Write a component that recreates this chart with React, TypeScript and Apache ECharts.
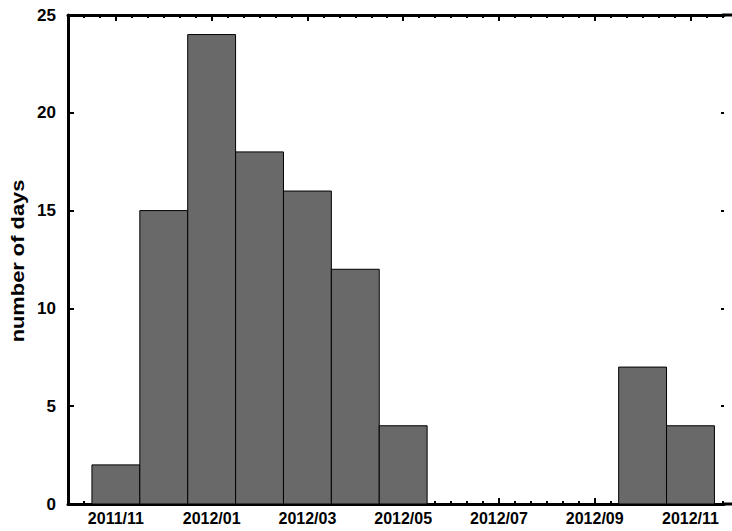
import React, { useEffect, useRef } from "react";
import * as echarts from "echarts";

const months = [
  "2011/11", "2011/12", "2012/01", "2012/02", "2012/03", "2012/04", "2012/05",
  "2012/06", "2012/07", "2012/08", "2012/09", "2012/10", "2012/11",
];
const days = [2, 15, 24, 18, 16, 12, 4, 0, 0, 0, 0, 7, 4];
const majorTickIdx = [0, 2, 4, 6, 8, 10, 12];
const yTitle = "number of days";

const X_MIN = -1;
const X_MAX = 12.7;

const minorTicks: number[] = [];
for (let i = -3; i <= 38; i++) {
  const v = i / 3;
  if (v > X_MIN && v < X_MAX && i % 6 !== 0) minorTicks.push(v);
}

const FONT = "'Liberation Sans', Arial, sans-serif";

export default function App() {
  const ref = useRef<HTMLDivElement>(null);
  useEffect(() => {
    if (!ref.current) return;
    const chart = echarts.init(ref.current, null, { renderer: "svg" });
    const data = months.map((m, i) => [i, days[i]]);
    const baseX = {
      type: "value",
      min: X_MIN,
      max: X_MAX,
      splitLine: { show: false },
    };
    chart.setOption({
      animation: false,
      backgroundColor: "#fff",
      grid: { left: 68, right: 8, top: 15, bottom: 27, containLabel: false },
      xAxis: [
        {
          ...baseX,
          position: "bottom",
          axisLine: { show: true, onZero: false, lineStyle: { color: "#000", width: 3 } },
          axisTick: {
            show: true,
            inside: true,
            length: 6,
            lineStyle: { color: "#000", width: 2 },
            customValues: majorTickIdx,
          },
          axisLabel: {
            show: true,
            customValues: majorTickIdx,
            formatter: (v: number) => months[Math.round(v)] ?? "",
            color: "#000",
            fontSize: 16,
            fontWeight: "bold",
            fontFamily: FONT,
            margin: 6,
          },
        },
        {
          ...baseX,
          position: "bottom",
          axisLine: { show: false, onZero: false },
          axisTick: {
            show: true,
            inside: true,
            length: 3,
            lineStyle: { color: "#000", width: 2 },
            customValues: minorTicks,
          },
          axisLabel: { show: false },
        },
        {
          ...baseX,
          position: "top",
          axisLine: { show: true, onZero: false, lineStyle: { color: "#000", width: 3 } },
          axisTick: {
            show: true,
            inside: true,
            length: 6,
            lineStyle: { color: "#000", width: 2 },
            customValues: majorTickIdx,
          },
          axisLabel: { show: false },
        },
        {
          ...baseX,
          position: "top",
          axisLine: { show: false, onZero: false },
          axisTick: {
            show: true,
            inside: true,
            length: 3,
            lineStyle: { color: "#000", width: 2 },
            customValues: minorTicks,
          },
          axisLabel: { show: false },
        },
      ],
      yAxis: [
        {
          type: "value",
          min: 0,
          max: 25,
          interval: 5,
          position: "left",
          splitLine: { show: false },
          axisLine: { show: true, onZero: false, lineStyle: { color: "#000", width: 3 } },
          axisTick: { show: true, inside: true, length: 6, lineStyle: { color: "#000", width: 2 } },
          axisLabel: {
            color: "#000",
            fontSize: 17,
            fontWeight: "bold",
            fontFamily: FONT,
            margin: 12,
          },
        },
        {
          type: "value",
          min: 0,
          max: 25,
          interval: 5,
          position: "right",
          splitLine: { show: false },
          axisLine: { show: false, onZero: false },
          axisTick: { show: true, inside: true, length: 3, lineStyle: { color: "#000", width: 2 } },
          axisLabel: { show: false },
        },
      ],
      graphic: [
        {
          type: "text",
          x: 17,
          y: 261,
          rotation: Math.PI / 2,
          scaleX: 1.15,
          style: {
            text: yTitle,
            fill: "#000",
            font: `bold 19px ${FONT}`,
            align: "center",
            verticalAlign: "middle",
          },
        },
        { type: "line", shape: { x1: 722, y1: 15, x2: 732, y2: 15 }, style: { stroke: "#000", lineWidth: 3 } },
        { type: "line", shape: { x1: 722, y1: 504, x2: 732, y2: 504 }, style: { stroke: "#000", lineWidth: 3 } },
      ],
      series: [
        {
          type: "custom",
          xAxisIndex: 0,
          yAxisIndex: 0,
          data,
          renderItem: (params: any, api: any) => {
            const x = api.value(0);
            const y = api.value(1);
            if (!y) return null;
            const p0 = api.coord([x - 0.5, y]);
            const p1 = api.coord([x + 0.5, 0]);
            return {
              type: "rect",
              shape: { x: p0[0], y: p0[1], width: p1[0] - p0[0], height: p1[1] - p0[1] },
              style: { fill: "#696969", stroke: "#000", lineWidth: 1 },
            };
          },
          z: 1,
        },
      ],
    });
    return () => chart.dispose();
  }, []);
  return (
    <div
      ref={ref}
      style={{ position: "fixed", left: 0, top: 0, width: 732, height: 531, background: "#fff" }}
    />
  );
}
